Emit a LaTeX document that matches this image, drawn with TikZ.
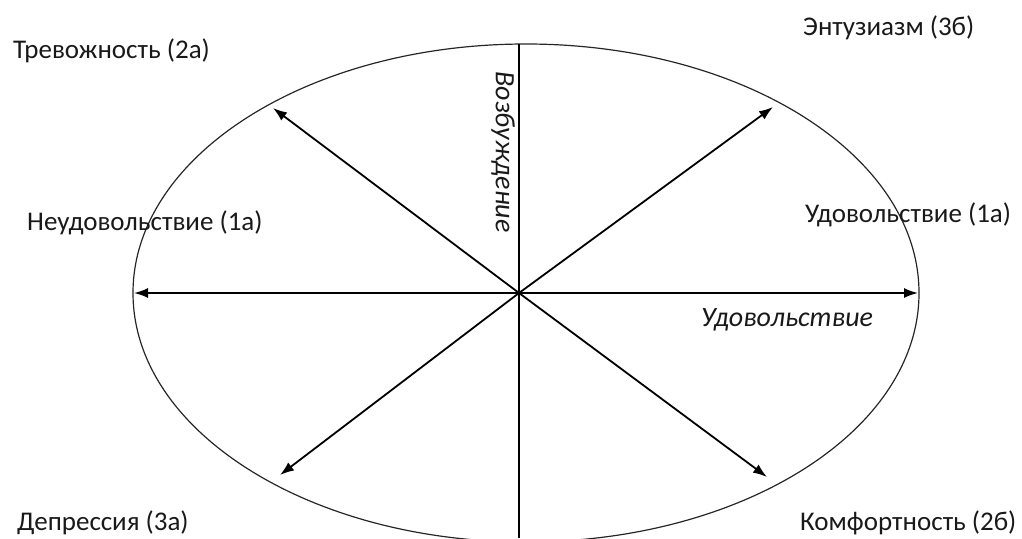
\documentclass[tikz,border=0pt]{standalone}
\usepackage{fontspec}
\setmainfont{Carlito}
\usetikzlibrary{arrows.meta}
\begin{document}
\begin{tikzpicture}[x=1pt,y=-1pt,
  lbl/.style={inner sep=0pt,anchor=west,font=\fontsize{27}{32}\selectfont,text=black!90},
  axlbl/.style={inner sep=0pt,font=\fontsize{28}{32}\selectfont\itshape,text=black!90},
  arr/.style={line width=1.8pt,-{Latex[length=14pt,width=10pt]}},
  rim/.style={line width=1.2pt,black!85}]
\useasboundingbox (0,0) rectangle (1022,538);
\draw[rim] (526,293) ellipse [x radius=393, y radius=249];
\coordinate (o) at (519,293);
\coordinate (top) at (519,44);
\coordinate (bot) at (519,538);
\coordinate (l) at (134,293);
\coordinate (r) at (918,293);
\coordinate (ul) at (273,108);
\coordinate (ur) at (773,107);
\coordinate (dl) at (280,475);
\coordinate (dr) at (767,477);
\draw[line width=1.8pt] (top) -- (bot);
\draw[arr] (o) -- (l);
\draw[arr] (o) -- (r);
\draw[arr] (o) -- (ul);
\draw[arr] (o) -- (ur);
\draw[arr] (o) -- (dl);
\draw[arr] (o) -- (dr);
\node[lbl] (t2a) at (13,51) {Тревожность (2а)};
\node[lbl] (t3b) at (803,28) {Энтузиазм (3б)};
\node[lbl] (t1a) at (27,223) {Неудовольствие (1а)};
\node[lbl] (t1b) at (805,215) {Удовольствие (1а)};
\node[lbl] (t3a) at (17,523) {Депрессия (3а)};
\node[lbl] (t2b) at (800,523) {Комфортность (2б)};
\node[axlbl] (ax1) at (787,320) {Удовольствие};
\node[axlbl,rotate=-90] (ax2) at (503,152) {Возбуждение};
\end{tikzpicture}
\end{document}
